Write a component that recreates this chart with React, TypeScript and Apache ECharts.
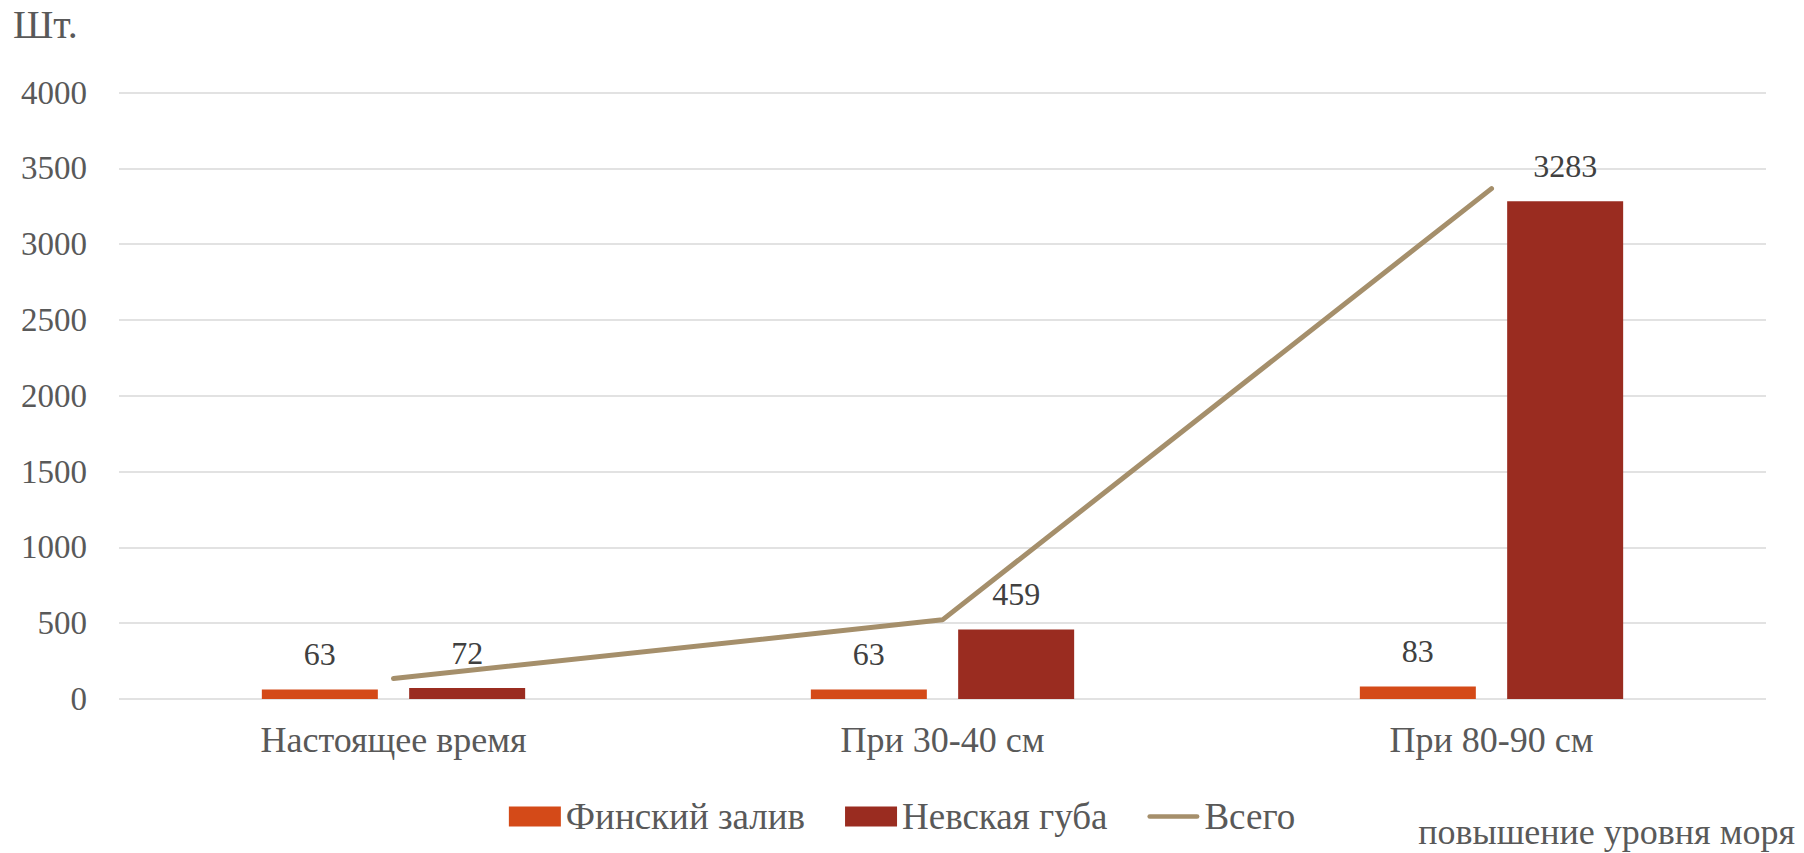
import React, { useEffect, useRef } from "react";
import * as echarts from "echarts";

const categories = ["Настоящее время", "При 30-40 см", "При 80-90 см"];
const finskyZaliv = [63, 63, 83];
const nevskayaGuba = [72, 459, 3283];
const vsego = [135, 522, 3366];
const yTicks = { min: 0, max: 4000, interval: 500 };

const FONT = "Liberation Serif";
const LINE_ICON =
  "path://M2.5,0 L53.5,0 A2.5,2.5 0 0 1 53.5,5 L2.5,5 A2.5,2.5 0 0 1 2.5,0 Z";

export default function App() {
  const ref = useRef<HTMLDivElement>(null);
  useEffect(() => {
    if (!ref.current) return;
    const chart = echarts.init(ref.current, undefined, { renderer: "svg" });
    const labelStyle = {
      show: true,
      position: "top" as const,
      distance: 19,
      color: "#404040",
      fontFamily: FONT,
      fontSize: 32,
    };
    chart.setOption({
      animation: false,
      textStyle: { fontFamily: FONT },
      grid: { left: 119, right: 38, top: 92.5, bottom: 154, containLabel: false },
      legend: {
        left: "center",
        top: 793,
        itemWidth: 52,
        itemHeight: 20,
        itemGap: 40,
        textStyle: { color: "#595959", fontFamily: FONT, fontSize: 37 },
        data: [
          { name: "Финский залив", icon: "rect" },
          { name: "Невская губа", icon: "rect" },
          { name: "Всего", icon: LINE_ICON },
        ],
      },
      xAxis: {
        type: "category",
        data: categories,
        axisLine: { show: false },
        axisTick: { show: false },
        axisLabel: { color: "#595959", fontFamily: FONT, fontSize: 36, margin: 23 },
      },
      yAxis: {
        type: "value",
        min: yTicks.min,
        max: yTicks.max,
        interval: yTicks.interval,
        axisLine: { show: false },
        axisTick: { show: false },
        axisLabel: {
          color: "#595959",
          fontFamily: FONT,
          fontSize: 33,
          margin: 32,
          formatter: (v: number) => String(v),
        },
        splitLine: { lineStyle: { color: "#D9D9D9", width: 1.5 } },
      },
      graphic: [
        {
          type: "text",
          left: 13,
          top: 4,
          style: { text: "Шт.", fill: "#595959", font: `40px ${FONT}` },
        },
        {
          type: "text",
          right: 9,
          top: 814,
          style: { text: "повышение уровня моря", fill: "#595959", font: `36px ${FONT}` },
        },
      ],
      series: [
        {
          name: "Финский залив",
          type: "bar",
          data: finskyZaliv,
          barWidth: 116,
          barGap: "27%",
          itemStyle: { color: "#D44A18" },
          label: labelStyle,
        },
        {
          name: "Невская губа",
          type: "bar",
          data: nevskayaGuba,
          barWidth: 116,
          barGap: "27%",
          itemStyle: { color: "#9A2C20" },
          label: labelStyle,
        },
        {
          name: "Всего",
          type: "line",
          data: vsego,
          symbol: "none",
          lineStyle: { color: "#A58F6B", width: 5, cap: "round" },
          itemStyle: { color: "#A58F6B" },
        },
      ],
    });
    return () => chart.dispose();
  }, []);
  return (
    <div
      ref={ref}
      style={{ position: "fixed", left: 0, top: 0, width: 1804, height: 853, background: "#fff" }}
    />
  );
}
